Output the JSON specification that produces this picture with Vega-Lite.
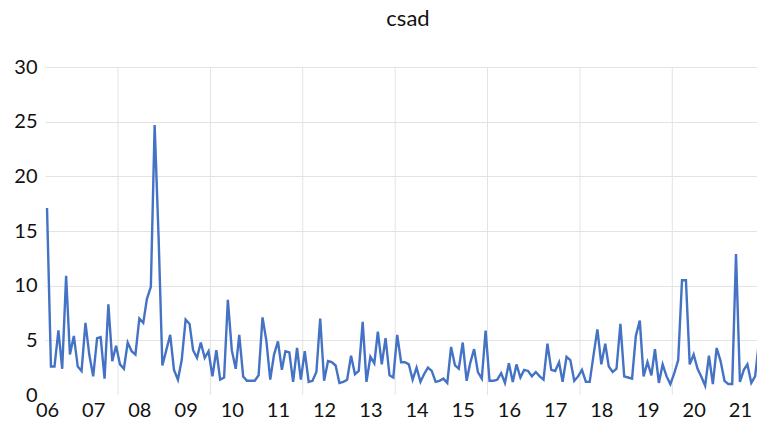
{
  "$schema": "https://vega.github.io/schema/vega-lite/v6.json",
  "width": 712,
  "height": 328,
  "autosize": {"type": "none"},
  "padding": {"left": 45, "top": 67, "right": 0, "bottom": 26},
  "title": {"text": "csad", "font": "Lato", "fontSize": 22, "fontWeight": "normal", "color": "#111111", "offset": 26, "dx": 7},
  "config": {"view": {"stroke": null}},
  "datasets": {
    "grid": [
      {"d": "2007-07-16"}, {"d": "2009-07-16"}, {"d": "2011-07-16"}, {"d": "2013-07-16"},
      {"d": "2015-07-16"}, {"d": "2017-07-16"}, {"d": "2019-07-16"}
    ],
    "csad": [
      {"d": "2006-01-01", "v": 17.1}, {"d": "2006-02-01", "v": 2.6}, {"d": "2006-03-01", "v": 2.6}, {"d": "2006-04-01", "v": 5.9},
      {"d": "2006-05-01", "v": 2.4}, {"d": "2006-06-01", "v": 10.9}, {"d": "2006-07-01", "v": 3.7}, {"d": "2006-08-01", "v": 5.4},
      {"d": "2006-09-01", "v": 2.6}, {"d": "2006-10-01", "v": 2.2}, {"d": "2006-11-01", "v": 6.6}, {"d": "2006-12-01", "v": 3.7},
      {"d": "2007-01-01", "v": 1.7}, {"d": "2007-02-01", "v": 5.2}, {"d": "2007-03-01", "v": 5.3}, {"d": "2007-04-01", "v": 1.5},
      {"d": "2007-05-01", "v": 8.3}, {"d": "2007-06-01", "v": 3.1}, {"d": "2007-07-01", "v": 4.5}, {"d": "2007-08-01", "v": 2.8},
      {"d": "2007-09-01", "v": 2.4}, {"d": "2007-10-01", "v": 4.8}, {"d": "2007-11-01", "v": 4.0}, {"d": "2007-12-01", "v": 3.7},
      {"d": "2008-01-01", "v": 7.0}, {"d": "2008-02-01", "v": 6.6}, {"d": "2008-03-01", "v": 8.8}, {"d": "2008-04-01", "v": 9.9},
      {"d": "2008-05-01", "v": 24.7}, {"d": "2008-06-01", "v": 14.5}, {"d": "2008-07-01", "v": 2.7}, {"d": "2008-08-01", "v": 4.1},
      {"d": "2008-09-01", "v": 5.5}, {"d": "2008-10-01", "v": 2.3}, {"d": "2008-11-01", "v": 1.4}, {"d": "2008-12-01", "v": 3.2},
      {"d": "2009-01-01", "v": 6.9}, {"d": "2009-02-01", "v": 6.5}, {"d": "2009-03-01", "v": 4.1}, {"d": "2009-04-01", "v": 3.4},
      {"d": "2009-05-01", "v": 4.8}, {"d": "2009-06-01", "v": 3.4}, {"d": "2009-07-01", "v": 4.0}, {"d": "2009-08-01", "v": 1.7},
      {"d": "2009-09-01", "v": 4.1}, {"d": "2009-10-01", "v": 1.4}, {"d": "2009-11-01", "v": 1.6}, {"d": "2009-12-01", "v": 8.7},
      {"d": "2010-01-01", "v": 4.1}, {"d": "2010-02-01", "v": 2.4}, {"d": "2010-03-01", "v": 5.5}, {"d": "2010-04-01", "v": 1.7},
      {"d": "2010-05-01", "v": 1.3}, {"d": "2010-06-01", "v": 1.3}, {"d": "2010-07-01", "v": 1.3}, {"d": "2010-08-01", "v": 1.8},
      {"d": "2010-09-01", "v": 7.1}, {"d": "2010-10-01", "v": 5.0}, {"d": "2010-11-01", "v": 1.4}, {"d": "2010-12-01", "v": 3.7},
      {"d": "2011-01-01", "v": 4.9}, {"d": "2011-02-01", "v": 2.3}, {"d": "2011-03-01", "v": 4.0}, {"d": "2011-04-01", "v": 3.9},
      {"d": "2011-05-01", "v": 1.2}, {"d": "2011-06-01", "v": 4.3}, {"d": "2011-07-01", "v": 1.4}, {"d": "2011-08-01", "v": 4.0},
      {"d": "2011-09-01", "v": 1.2}, {"d": "2011-10-01", "v": 1.3}, {"d": "2011-11-01", "v": 2.1}, {"d": "2011-12-01", "v": 7.0},
      {"d": "2012-01-01", "v": 1.3}, {"d": "2012-02-01", "v": 3.1}, {"d": "2012-03-01", "v": 3.0}, {"d": "2012-04-01", "v": 2.7},
      {"d": "2012-05-01", "v": 1.1}, {"d": "2012-06-01", "v": 1.2}, {"d": "2012-07-01", "v": 1.4}, {"d": "2012-08-01", "v": 3.6},
      {"d": "2012-09-01", "v": 1.9}, {"d": "2012-10-01", "v": 2.2}, {"d": "2012-11-01", "v": 6.7}, {"d": "2012-12-01", "v": 1.2},
      {"d": "2013-01-01", "v": 3.5}, {"d": "2013-02-01", "v": 2.9}, {"d": "2013-03-01", "v": 5.8}, {"d": "2013-04-01", "v": 2.8},
      {"d": "2013-05-01", "v": 5.2}, {"d": "2013-06-01", "v": 1.8}, {"d": "2013-07-01", "v": 1.6}, {"d": "2013-08-01", "v": 5.5},
      {"d": "2013-09-01", "v": 3.0}, {"d": "2013-10-01", "v": 3.0}, {"d": "2013-11-01", "v": 2.8}, {"d": "2013-12-01", "v": 1.4},
      {"d": "2014-01-01", "v": 2.5}, {"d": "2014-02-01", "v": 1.2}, {"d": "2014-03-01", "v": 1.9}, {"d": "2014-04-01", "v": 2.5},
      {"d": "2014-05-01", "v": 2.2}, {"d": "2014-06-01", "v": 1.2}, {"d": "2014-07-01", "v": 1.3}, {"d": "2014-08-01", "v": 1.5},
      {"d": "2014-09-01", "v": 1.1}, {"d": "2014-10-01", "v": 4.4}, {"d": "2014-11-01", "v": 2.7}, {"d": "2014-12-01", "v": 2.4},
      {"d": "2015-01-01", "v": 4.8}, {"d": "2015-02-01", "v": 1.3}, {"d": "2015-03-01", "v": 2.9}, {"d": "2015-04-01", "v": 4.2},
      {"d": "2015-05-01", "v": 2.1}, {"d": "2015-06-01", "v": 1.5}, {"d": "2015-07-01", "v": 5.9}, {"d": "2015-08-01", "v": 1.3},
      {"d": "2015-09-01", "v": 1.3}, {"d": "2015-10-01", "v": 1.4}, {"d": "2015-11-01", "v": 2.0}, {"d": "2015-12-01", "v": 1.1},
      {"d": "2016-01-01", "v": 2.9}, {"d": "2016-02-01", "v": 1.2}, {"d": "2016-03-01", "v": 2.8}, {"d": "2016-04-01", "v": 1.6},
      {"d": "2016-05-01", "v": 2.3}, {"d": "2016-06-01", "v": 2.2}, {"d": "2016-07-01", "v": 1.7}, {"d": "2016-08-01", "v": 2.1},
      {"d": "2016-09-01", "v": 1.7}, {"d": "2016-10-01", "v": 1.4}, {"d": "2016-11-01", "v": 4.7}, {"d": "2016-12-01", "v": 2.3},
      {"d": "2017-01-01", "v": 2.2}, {"d": "2017-02-01", "v": 3.0}, {"d": "2017-03-01", "v": 1.2}, {"d": "2017-04-01", "v": 3.5},
      {"d": "2017-05-01", "v": 3.2}, {"d": "2017-06-01", "v": 1.3}, {"d": "2017-07-01", "v": 1.7}, {"d": "2017-08-01", "v": 2.3},
      {"d": "2017-09-01", "v": 1.2}, {"d": "2017-10-01", "v": 1.2}, {"d": "2017-11-01", "v": 3.7}, {"d": "2017-12-01", "v": 6.0},
      {"d": "2018-01-01", "v": 2.8}, {"d": "2018-02-01", "v": 4.7}, {"d": "2018-03-01", "v": 2.6}, {"d": "2018-04-01", "v": 2.1},
      {"d": "2018-05-01", "v": 2.4}, {"d": "2018-06-01", "v": 6.5}, {"d": "2018-07-01", "v": 1.7}, {"d": "2018-08-01", "v": 1.6},
      {"d": "2018-09-01", "v": 1.5}, {"d": "2018-10-01", "v": 5.4}, {"d": "2018-11-01", "v": 6.8}, {"d": "2018-12-01", "v": 1.7},
      {"d": "2019-01-01", "v": 3.0}, {"d": "2019-02-01", "v": 1.8}, {"d": "2019-03-01", "v": 4.2}, {"d": "2019-04-01", "v": 1.1},
      {"d": "2019-05-01", "v": 2.8}, {"d": "2019-06-01", "v": 1.7}, {"d": "2019-07-01", "v": 1.0}, {"d": "2019-08-01", "v": 2.0},
      {"d": "2019-09-01", "v": 3.2}, {"d": "2019-10-01", "v": 10.5}, {"d": "2019-11-01", "v": 10.5}, {"d": "2019-12-01", "v": 2.8},
      {"d": "2020-01-01", "v": 3.7}, {"d": "2020-02-01", "v": 2.4}, {"d": "2020-03-01", "v": 1.7}, {"d": "2020-04-01", "v": 0.85},
      {"d": "2020-05-01", "v": 3.6}, {"d": "2020-06-01", "v": 1.0}, {"d": "2020-07-01", "v": 4.3}, {"d": "2020-08-01", "v": 3.1},
      {"d": "2020-09-01", "v": 1.3}, {"d": "2020-10-01", "v": 1.0}, {"d": "2020-11-01", "v": 1.0}, {"d": "2020-12-01", "v": 12.9},
      {"d": "2021-01-01", "v": 1.2}, {"d": "2021-02-01", "v": 2.3}, {"d": "2021-03-01", "v": 2.8}, {"d": "2021-04-01", "v": 1.1},
      {"d": "2021-05-01", "v": 1.7}, {"d": "2021-06-01", "v": 4.9}
    ]
  },
  "encoding": {
    "x": {
      "field": "d",
      "type": "temporal",
      "title": null,
      "scale": {
        "type": "utc",
        "domain": [
          {"year": 2005, "month": 12, "date": 16, "utc": true},
          {"year": 2021, "month": 5, "date": 16, "utc": true}
        ]
      },
      "axis": {
        "values": [
          {"year": 2006, "month": 1, "date": 1, "utc": true}, {"year": 2007, "month": 1, "date": 1, "utc": true},
          {"year": 2008, "month": 1, "date": 1, "utc": true}, {"year": 2009, "month": 1, "date": 1, "utc": true},
          {"year": 2010, "month": 1, "date": 1, "utc": true}, {"year": 2011, "month": 1, "date": 1, "utc": true},
          {"year": 2012, "month": 1, "date": 1, "utc": true}, {"year": 2013, "month": 1, "date": 1, "utc": true},
          {"year": 2014, "month": 1, "date": 1, "utc": true}, {"year": 2015, "month": 1, "date": 1, "utc": true},
          {"year": 2016, "month": 1, "date": 1, "utc": true}, {"year": 2017, "month": 1, "date": 1, "utc": true},
          {"year": 2018, "month": 1, "date": 1, "utc": true}, {"year": 2019, "month": 1, "date": 1, "utc": true},
          {"year": 2020, "month": 1, "date": 1, "utc": true}, {"year": 2021, "month": 1, "date": 1, "utc": true}
        ],
        "labelExpr": "utcFormat(datum.value, '%y')",
        "grid": false,
        "domain": false,
        "ticks": false,
        "labelFont": "Lato",
        "labelFontSize": 20,
        "labelColor": "#111111",
        "labelPadding": 5,
        "labelOverlap": false,
        "labelFlush": false
      }
    }
  },
  "layer": [
    {
      "data": {"name": "grid"},
      "mark": {"type": "rule", "color": "#e3e3e3", "strokeWidth": 1}
    },
    {
      "data": {"name": "csad"},
      "mark": {"type": "line", "color": "#4472c4", "strokeWidth": 2.4, "clip": true},
      "encoding": {
        "y": {
          "field": "v",
          "type": "quantitative",
          "title": null,
          "scale": {"domain": [0, 30], "nice": false, "zero": true},
          "axis": {
            "values": [0, 5, 10, 15, 20, 25, 30],
            "grid": true,
            "gridColor": {"condition": {"test": "datum.value === 0", "value": "transparent"}, "value": "#e3e3e3"},
            "domain": false,
            "ticks": false,
            "labelFont": "Lato",
            "labelFontSize": 20,
            "labelColor": "#111111",
            "labelPadding": 8
          }
        }
      }
    }
  ]
}
